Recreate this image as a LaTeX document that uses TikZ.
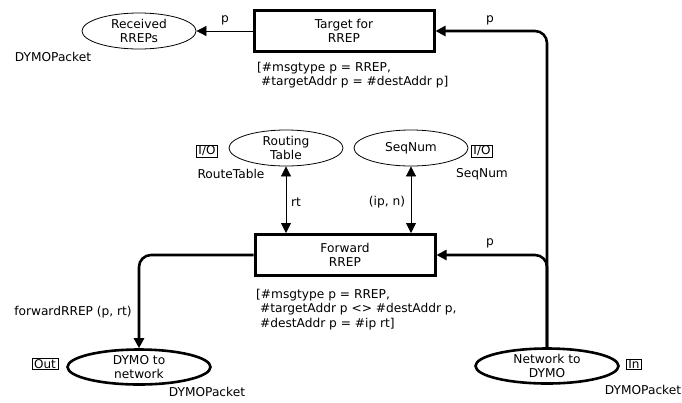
\documentclass[tikz,border=0pt]{standalone}
\usepackage{fontspec}
\setmainfont{DejaVu Sans}
\usetikzlibrary{arrows.meta,shapes.geometric}
\begin{document}
\begin{tikzpicture}[x=1bp,y=-1bp,
  every node/.style={font=\fontsize{12.2bp}{14.5bp}\selectfont},
  place/.style={ellipse,draw,line width=0.8bp,minimum width=114bp,minimum height=36bp,inner sep=0pt,align=center},
  portplace/.style={place,line width=2.6bp,minimum width=143bp,minimum height=35bp},
  trans/.style={rectangle,draw,line width=3bp,minimum width=180bp,minimum height=41bp,align=center,inner sep=0pt},
  tag/.style={draw,line width=0.6bp,inner xsep=2bp,inner ysep=0.8bp,font=\fontsize{12bp}{12bp}\selectfont},
  lbl/.style={inner sep=0pt},
  guard/.style={inner sep=0pt,align=left,anchor=north west},
  thinarc/.style={line width=0.8bp,-{Triangle[length=10bp,width=10bp]}},
  botharc/.style={line width=0.8bp,{Triangle[length=10bp,width=10bp]}-{Triangle[length=10bp,width=10bp]}},
  thickarc/.style={line width=2.6bp,-{Triangle[length=10bp,width=10bp]},rounded corners=12bp},
]
\useasboundingbox (0,0) rectangle (682,402);

% places
\node[place] (recv) at (139,31) {Received\\RREPs};
\node[lbl] (recvtype) at (53,57) {DYMOPacket};

\node[place] (routing) at (286,148) {Routing\\Table};
\node[tag] (routingtag) at (207,151) {I/O};
\node[lbl] (routingtype) at (231,174) {RouteTable};

\node[place] (seqnum) at (411,148) {SeqNum};
\node[tag] (seqnumtag) at (482,151) {I/O};
\node[lbl] (seqnumtype) at (482,174) {SeqNum};

\node[portplace] (d2n) at (139,367) {DYMO to\\network};
\node[tag] (d2ntag) at (45,364) {Out};
\node[lbl] (d2ntype) at (207,392) {DYMOPacket};

\node[portplace] (n2d) at (547,366) {Network to\\DYMO};
\node[tag] (n2dtag) at (634,364) {In};
\node[lbl] (n2dtype) at (643,390) {DYMOPacket};

% transitions
\node[trans] (target) at (344,31) {Target for\\RREP};
\node[guard] (targetguard) at (257,62) {[\#msgtype p = RREP,\\~\#targetAddr p = \#destAddr p]};

\node[trans] (forward) at (345,255) {Forward\\RREP};
\node[guard] (forwardguard) at (256,289) {[\#msgtype p = RREP,\\~\#targetAddr p <> \#destAddr p,\\~\#destAddr p = \#ip rt]};

% arcs
\draw[thinarc] (target.west) -- (recv.east);
\node[lbl] (lp1) at (225,20) {p};

\draw[thickarc] (n2d.north) |- (target.east);
\node[lbl] (lp2) at (490,20) {p};

\draw[thickarc] (n2d.north) |- (forward.east);
\node[lbl] (lp3) at (490,243) {p};

\draw[thickarc] (forward.west) -| (d2n.north);
\node[lbl] (lfw) at (73,312) {forwardRREP (p, rt)};

\draw[botharc] (routing.south) -- (routing.south |- forward.north);
\node[lbl] (lrt) at (296,202) {rt};

\draw[botharc] (seqnum.south) -- (seqnum.south |- forward.north);
\node[lbl] (lipn) at (387,202) {(ip, n)};
\end{tikzpicture}
\end{document}
